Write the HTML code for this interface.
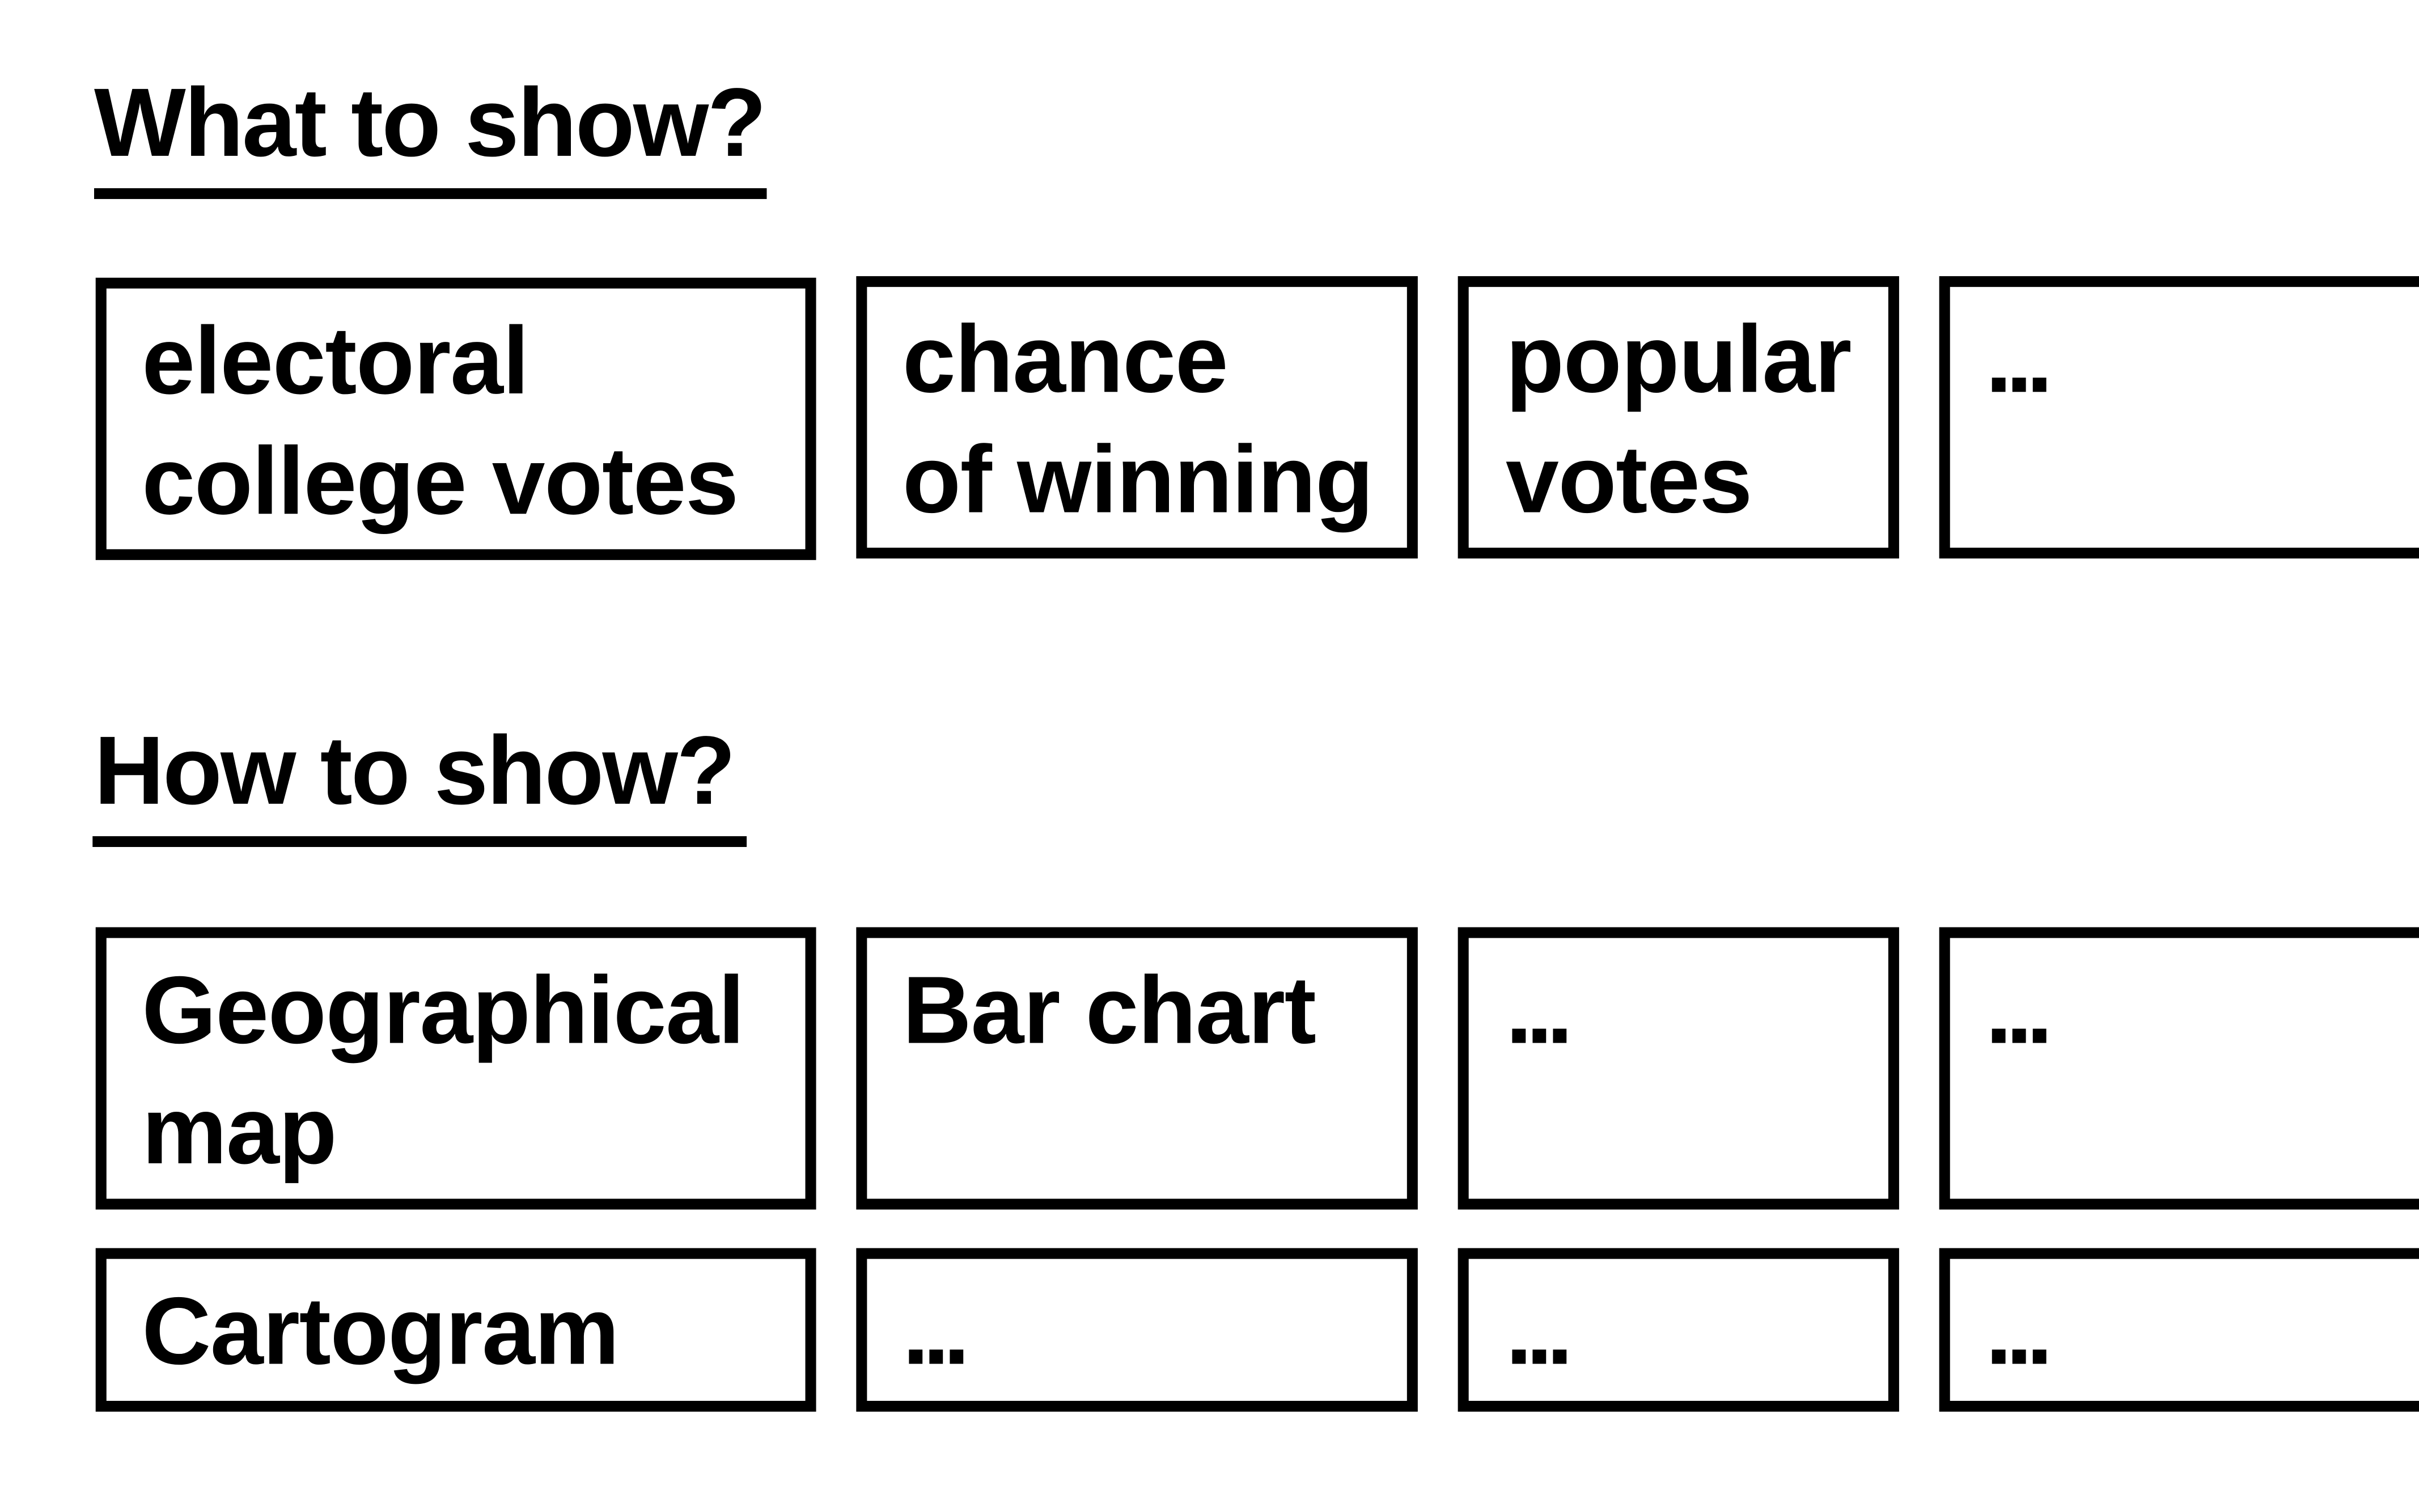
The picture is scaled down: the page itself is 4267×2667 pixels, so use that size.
<!DOCTYPE html>
<html><head><meta charset="utf-8"><style>
html,body{margin:0;padding:0;background:#fff;}
body{width:4267px;height:2667px;overflow:hidden;position:relative;}
#w{position:absolute;left:0;top:0;width:1568px;height:980px;transform:scale(2.7213);transform-origin:0 0;font-family:"Liberation Sans",sans-serif;font-weight:bold;color:#000;}
.t{position:absolute;font-size:63px;line-height:80px;white-space:nowrap;letter-spacing:-1px;}
.u{position:absolute;background:#000;height:7px;}
.b{position:absolute;border:7px solid #000;box-sizing:border-box;}
.x{position:absolute;font-size:62px;line-height:78px;white-space:nowrap;letter-spacing:-0.5px;}
.d{letter-spacing:-4px;}
</style></head><body><div id="w">
<div class="t" style="left:61px;top:40px">What to show?</div>
<div class="u" style="left:61px;top:122px;width:436px"></div>
<div class="b" style="left:62px;top:180px;width:467px;height:183px"></div>
<div class="b" style="left:555px;top:179px;width:364px;height:183px"></div>
<div class="b" style="left:945px;top:179px;width:286px;height:183px"></div>
<div class="b" style="left:1257px;top:179px;width:340px;height:183px"></div>
<div class="x" style="left:92px;top:196px">electoral<br>college votes</div>
<div class="x" style="left:585px;top:195px">chance<br>of winning</div>
<div class="x" style="left:976px;top:195px">popular<br>votes</div>
<div class="x d" style="left:1287px;top:195px">...</div>

<div class="t" style="left:61px;top:460px">How to show?</div>
<div class="u" style="left:60px;top:542px;width:424px"></div>
<div class="b" style="left:62px;top:601px;width:467px;height:183px"></div>
<div class="b" style="left:555px;top:601px;width:364px;height:183px"></div>
<div class="b" style="left:945px;top:601px;width:286px;height:183px"></div>
<div class="b" style="left:1257px;top:601px;width:340px;height:183px"></div>
<div class="x" style="left:92px;top:617px">Geographical<br>map</div>
<div class="x" style="left:585px;top:617px">Bar chart</div>
<div class="x d" style="left:976px;top:617px">...</div>
<div class="x d" style="left:1287px;top:617px">...</div>

<div class="b" style="left:62px;top:809px;width:467px;height:106px"></div>
<div class="b" style="left:555px;top:809px;width:364px;height:106px"></div>
<div class="b" style="left:945px;top:809px;width:286px;height:106px"></div>
<div class="b" style="left:1257px;top:809px;width:340px;height:106px"></div>
<div class="x" style="left:92px;top:825px">Cartogram</div>
<div class="x d" style="left:585px;top:825px">...</div>
<div class="x d" style="left:976px;top:825px">...</div>
<div class="x d" style="left:1287px;top:825px">...</div>
</div></body></html>
